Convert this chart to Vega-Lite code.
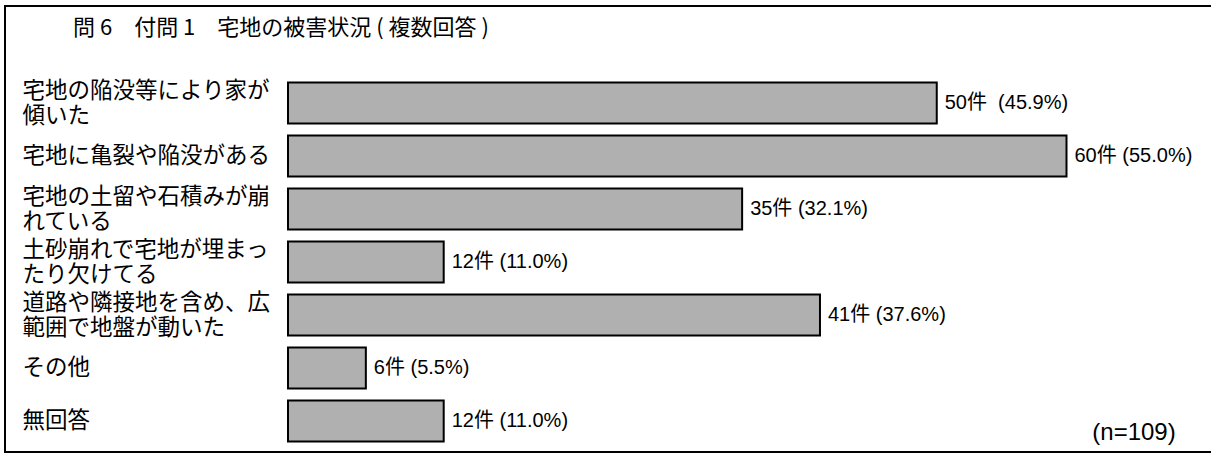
{
  "$schema": "https://vega.github.io/schema/vega-lite/v6.json",
  "width": 1210,
  "height": 446,
  "autosize": {"type": "none"},
  "padding": {"left": 5, "top": 6, "right": 0, "bottom": 2},
  "background": "white",
  "config": {
    "view": {"stroke": "black", "strokeWidth": 2},
    "font": "Noto Sans CJK JP"
  },
  "title": {
    "text": "問 6　付問 1　宅地の被害状況 ( 複数回答 )",
    "anchor": "start",
    "frame": "group",
    "font": "Noto Sans CJK JP",
    "fontSize": 22,
    "fontWeight": "normal",
    "color": "black",
    "baseline": "alphabetic",
    "offset": 0,
    "dx": 68,
    "dy": 51
  },
  "data": {
    "values": [
      {"item": "宅地の陥没等により家が|傾いた", "count": 50, "label": "50件\u00a0 (45.9%)"},
      {"item": "宅地に亀裂や陥没がある", "count": 60, "label": "60件 (55.0%)"},
      {"item": "宅地の土留や石積みが崩|れている", "count": 35, "label": "35件 (32.1%)"},
      {"item": "土砂崩れで宅地が埋まっ|たり欠けてる", "count": 12, "label": "12件 (11.0%)"},
      {"item": "道路や隣接地を含め、広|範囲で地盤が動いた", "count": 41, "label": "41件 (37.6%)"},
      {"item": "その他", "count": 6, "label": "6件 (5.5%)"},
      {"item": "無回答", "count": 12, "label": "12件 (11.0%)"}
    ]
  },
  "encoding": {
    "y": {
      "field": "item",
      "type": "nominal",
      "sort": null,
      "scale": {"range": [70.5, 441.5], "paddingInner": 0.2276, "paddingOuter": 0.1138},
      "axis": {
        "title": null,
        "domain": false,
        "ticks": false,
        "tickSize": 0,
        "grid": false,
        "offset": -17,
        "labelPadding": 0,
        "labelAlign": "left",
        "labelBaseline": "middle",
        "labelOffset": {"condition": {"test": "indexof(datum.value, '|') >= 0", "value": -12.5}, "value": 0},
        "labelFont": "Noto Sans CJK JP",
        "labelFontSize": 22.5,
        "labelColor": "black",
        "labelLineHeight": 25.5,
        "labelLimit": 0,
        "labelExpr": "split(datum.label, '|')"
      }
    },
    "x": {
      "field": "count",
      "type": "quantitative",
      "scale": {"domain": [0, 60], "range": [283, 1061.5], "nice": false, "zero": true},
      "axis": {
        "title": "(n=109)",
        "domain": false,
        "ticks": false,
        "labels": false,
        "grid": false,
        "titleFont": "Liberation Sans",
        "titleFontSize": 24,
        "titleFontWeight": "normal",
        "titleColor": "black",
        "titleAnchor": null,
        "titleAlign": "center",
        "titleBaseline": "middle",
        "titleX": 1128.5,
        "titleY": -20
      }
    }
  },
  "layer": [
    {
      "mark": {"type": "bar", "fill": "#b0b0b0", "stroke": "black", "strokeWidth": 2}
    },
    {
      "mark": {
        "type": "text",
        "align": "left",
        "baseline": "middle",
        "dx": 8,
        "font": "Liberation Sans, Noto Sans CJK JP",
        "fontSize": 20,
        "color": "black"
      },
      "encoding": {"text": {"field": "label"}}
    }
  ]
}
